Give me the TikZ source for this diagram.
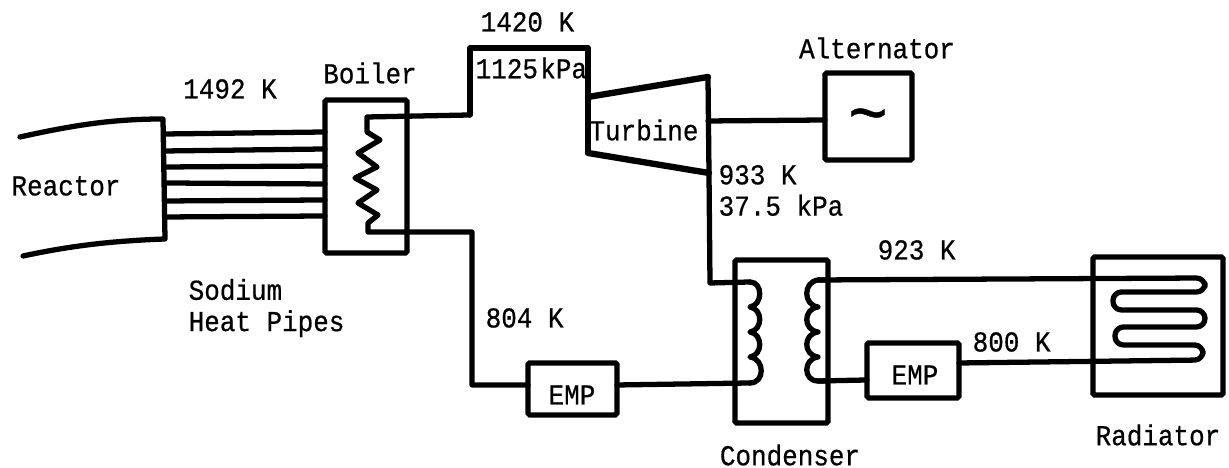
\documentclass[tikz,border=0pt]{standalone}
\usepackage{amsmath}
\usepackage{fontspec}
\setmonofont[FakeStretch=0.9,FakeBold=0.6]{Liberation Mono}
\usepackage{tikz}

\begin{document}
\begin{tikzpicture}[
    x=0.01cm, y=-0.01cm,
    pipeline/.style={line width=1.5pt, line join=round, line cap=round},
    unit/.style={draw, rectangle, line width=1.5pt, rounded corners=0.5pt, inner sep=0pt},
    tag/.style={inner sep=0pt, align=left, font=\ttfamily\fontsize{8.2}{8.9}\selectfont}
]
  \useasboundingbox (0,0) rectangle (1229,468);

  % Units
  \node[unit, minimum width=0.82cm, minimum height=1.53cm] (boiler) at (366,176.5) {};
  \node[unit, minimum width=0.89cm, minimum height=0.52cm] (emp1) at (572.5,389) {};
  \node[unit, minimum width=0.93cm, minimum height=1.63cm] (condenser) at (781.5,341.5) {};
  \node[unit, minimum width=0.92cm, minimum height=0.55cm] (emp2) at (913,370.5) {};
  \node[unit, minimum width=1.30cm, minimum height=1.38cm] (radiator) at (1158,326) {};
  \node[unit, minimum width=0.87cm, minimum height=0.87cm] (alternator) at (868.5,116.5) {};

  % Ports of the reactor, turbine and coils
  \coordinate (rtop) at (163,119);
  \coordinate (rbot) at (165,239);
  \coordinate (tb1) at (588,97);
  \coordinate (tb2) at (708,77);
  \coordinate (tb3) at (709,173);
  \coordinate (tb4) at (588,153);
  \coordinate (shaft) at (708,121);
  \coordinate (shaftend) at (825,120);
  \coordinate (hotin) at (367,117);
  \coordinate (hotout) at (368,232);
  \coordinate (riser) at (470,115);
  \coordinate (faller) at (472,232);
  \coordinate (cl1) at (750,282);
  \coordinate (cl2) at (750,383);
  \coordinate (cr1) at (818,280);
  \coordinate (cr2) at (818,381);
  \coordinate (emp1in) at (528,385);
  \coordinate (emp1out) at (617,385);
  \coordinate (emp2in) at (867,380);
  \coordinate (emp2out) at (959,363);

  % Reactor
  \draw[pipeline] (20,137) .. controls (70,126) and (110,119) .. (rtop) -- (rbot) .. controls (110,241) and (70,246) .. (23,256);
  \node[tag] (reactor) at (66,186) {Reactor};

  % Heat pipes
  \foreach \l/\r [count=\j] in {134/132,151/149,167/166,183/184,201/200,217/216} {
    \coordinate (rct\j) at (165,\l);
    \coordinate (blr\j) at (325,\r);
    \draw[pipeline] (rct\j) -- (blr\j);
  }

  % Boiler coil
  \draw[pipeline] (riser) -- (hotin) -- (367,132) -- (380,140) -- (358,153) -- (377,167) -- (355,178) -- (377,190) -- (358,203) -- (378,215) -- (368,223) -- (hotout) -- (faller) |- (emp1in);

  % Turbine
  \draw[pipeline, line width=1.8pt] (tb1) -- (tb2);
  \draw[pipeline, line width=1.8pt] (tb3) -- (tb4);
  \draw[pipeline] (riser) -- (470,48) -- (588,48) -- (tb4);
  \draw[pipeline] (tb2) -- (tb3) -- (710,283) -- (cl1);
  \draw[pipeline] (shaft) -- (shaftend);
  \node[tag] (turbine) at (644,130) {Turbine};

  % Condenser coils
  \draw[pipeline] (cl1) .. controls (763,282) and (763,305) .. (750,307) .. controls (763,309) and (763,330) .. (750,332) .. controls (763,334) and (763,355) .. (750,357) .. controls (765,359) and (765,383) .. (cl2);
  \draw[pipeline] (emp1out) -- (cl2);
  \draw[pipeline] (828,280) -- (cr1) .. controls (803,282) and (803,305) .. (818,307) .. controls (803,309) and (803,330) .. (818,332) .. controls (803,334) and (803,355) .. (818,357) .. controls (803,359) and (803,381) .. (cr2) -- (828,381);
  \draw[pipeline] (cr2) -- (emp2in);

  % Radiator loop
  \draw[pipeline, rounded corners=2.4pt] (cr1) -- (1205,278) -- (1205,292) -- (1113,292) -- (1113,310) -- (1205,310) -- (1205,327) -- (1115,327) -- (1115,345) -- (1203,345) -- (1203,360) -- (emp2out);

  % Labels
  \node[tag] (boilerlab) at (370,73) {Boiler};
  \node[tag] (hotlab) at (230,89) {1492 K};
  \node[tag, anchor=west] (pipelab) at (188,308) {Sodium\\Heat Pipes};
  \node[tag, anchor=west] (templab) at (480,22) {1420 K};
  \node[tag, anchor=west] (preslab) at (475,68) {1125\hspace{.08em}kPa};
  \node[tag] (altlab) at (877,48) {Alternator};
  \node[tag, font=\ttfamily\fontsize{21}{21}\selectfont] (altsign) at (868,123) {\char`\~};
  \node[tag, anchor=west] (exitlab) at (718,190.5) {933 K\\37.5 kPa};
  \node[tag, anchor=west] (retlab) at (485,318) {804 K};
  \node[tag] (emplab1) at (572,395) {EMP};
  \node[tag] (condlab) at (790,455) {Condenser};
  \node[tag, anchor=west] (radlab1) at (877,250) {923 K};
  \node[tag] (emplab2) at (915,375) {EMP};
  \node[tag, anchor=west] (radlab2) at (972,342) {800 K};
  \node[tag] (radlab) at (1158,435) {Radiator};

\end{tikzpicture}
\end{document}
